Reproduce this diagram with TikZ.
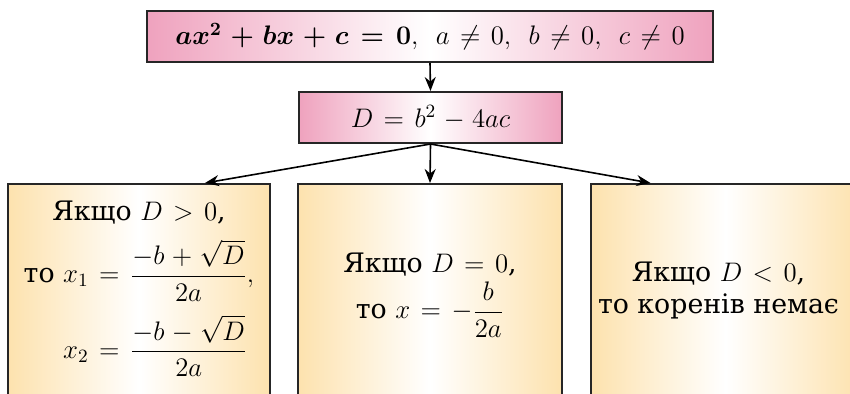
\documentclass[tikz,border=0pt]{standalone}
\usepackage{fix-cm}
\usepackage{amsmath}
\usepackage{fontspec}
\setmainfont{DejaVu Serif}
\usetikzlibrary{arrows.meta}

\definecolor{rosa}{HTML}{EFA2BE}
\definecolor{crema}{HTML}{FDE2AE}

\begin{document}
\begin{tikzpicture}[x=0.5pt, y=-0.5pt,
    caja/.style={draw=black!85, line width=1pt, inner sep=0pt, align=center,
        font=\fontsize{13.4}{16.2}\selectfont,
        execute at begin node={\medmuskip=5mu\relax\thickmuskip=7mu\relax}},
    rosada/.style={caja, left color=rosa, right color=rosa, middle color=white,
        minimum height=25.5pt},
    amarilla/.style={caja, left color=crema, right color=crema, middle color=white,
        anchor=north},
    flecha/.style={-{Stealth[length=7pt, width=5.5pt]}, line width=0.8pt}]
    \useasboundingbox (0,0) rectangle (850,393);

    % ecuacion y discriminante
    \node[rosada, minimum width=283pt] (ecuacion) at (430,36.5)
        {$\boldsymbol{ax^2 + bx + c = 0},\ \,a \neq 0,\ \,b \neq 0,\ \,c \neq 0$};
    \node[rosada, minimum width=131.5pt] (discr) at (430.5,117.5)
        {$D = b^2 - 4ac$};

    % tres casos (cortados abajo)
    \node[amarilla, minimum width=131pt, minimum height=108pt] (caso1) at (139,183)
        {\raisebox{2.5pt}[\height][\depth]{\begin{tabular}{@{}c@{}}
            Якщо $D > 0$,\\[5pt]
            $\begin{aligned}
                \text{то}\ x_1 &= \frac{-b + \sqrt{D}}{2a},\\[4pt]
                x_2 &= \frac{-b - \sqrt{D}}{2a}
            \end{aligned}$
         \end{tabular}}};
    \node[amarilla, minimum width=132pt, minimum height=111pt] (caso2) at (430,183)
        {Якщо $D = 0$,\\[2pt] то $x = -\dfrac{b}{2a}$};
    \node[amarilla, minimum width=134.5pt, minimum height=107pt] (caso3) at (725.5,183)
        {\begin{tabular}{@{}c@{}}Якщо $D < 0$,\\ то коренів немає\end{tabular}\hspace*{7pt}};

    \draw[flecha] (ecuacion.south) -- (discr.north);
    \foreach \caso/\dx in {caso1/33pt, caso2/0pt, caso3/-37.5pt}{
        \draw[flecha] (discr.south) -- ([xshift=\dx]\caso.north);
    }
\end{tikzpicture}
\end{document}
